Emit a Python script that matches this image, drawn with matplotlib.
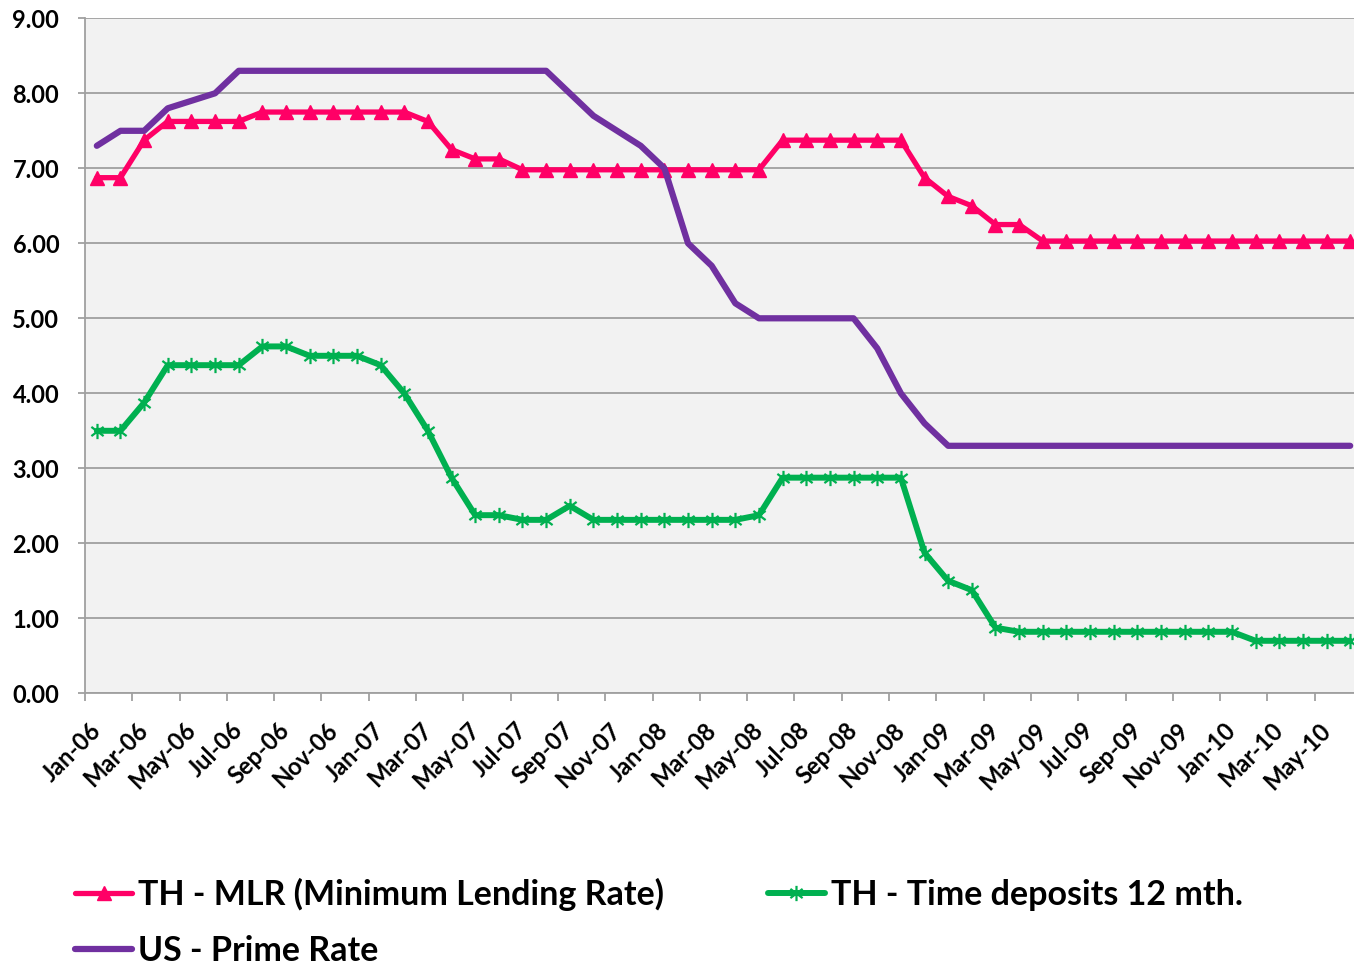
import matplotlib
matplotlib.use('Agg')
import matplotlib.pyplot as plt
from matplotlib.path import Path
import numpy as np

months = ['Jan-06', 'Feb-06', 'Mar-06', 'Apr-06', 'May-06', 'Jun-06', 'Jul-06', 'Aug-06', 'Sep-06', 'Oct-06', 'Nov-06', 'Dec-06',
          'Jan-07', 'Feb-07', 'Mar-07', 'Apr-07', 'May-07', 'Jun-07', 'Jul-07', 'Aug-07', 'Sep-07', 'Oct-07', 'Nov-07', 'Dec-07',
          'Jan-08', 'Feb-08', 'Mar-08', 'Apr-08', 'May-08', 'Jun-08', 'Jul-08', 'Aug-08', 'Sep-08', 'Oct-08', 'Nov-08', 'Dec-08',
          'Jan-09', 'Feb-09', 'Mar-09', 'Apr-09', 'May-09', 'Jun-09', 'Jul-09', 'Aug-09', 'Sep-09', 'Oct-09', 'Nov-09', 'Dec-09',
          'Jan-10', 'Feb-10', 'Mar-10', 'Apr-10', 'May-10', 'Jun-10']

th_mlr = [6.875, 6.875, 7.375, 7.625, 7.625, 7.625, 7.625, 7.75, 7.75, 7.75, 7.75, 7.75,
          7.75, 7.75, 7.625, 7.25, 7.125, 7.125, 6.98, 6.98, 6.98, 6.98, 6.98, 6.98,
          6.98, 6.98, 6.98, 6.98, 6.98, 7.375, 7.375, 7.375, 7.375, 7.375, 7.375, 6.875,
          6.625, 6.5, 6.25, 6.25, 6.03, 6.03, 6.03, 6.03, 6.03, 6.03, 6.03, 6.03,
          6.03, 6.03, 6.03, 6.03, 6.03, 6.03]

th_deposits = [3.5, 3.5, 3.875, 4.375, 4.375, 4.375, 4.375, 4.625, 4.625, 4.5, 4.5, 4.5,
               4.375, 4.0, 3.5, 2.875, 2.375, 2.375, 2.3125, 2.3125, 2.5, 2.3125, 2.3125, 2.3125,
               2.3125, 2.3125, 2.3125, 2.3125, 2.375, 2.875, 2.875, 2.875, 2.875, 2.875, 2.875, 1.875,
               1.5, 1.375, 0.875, 0.82, 0.82, 0.82, 0.82, 0.82, 0.82, 0.82, 0.82, 0.82,
               0.82, 0.70, 0.70, 0.70, 0.70, 0.70]

us_prime = [7.3, 7.5, 7.5, 7.8, 7.9, 8.0, 8.3, 8.3, 8.3, 8.3, 8.3, 8.3,
            8.3, 8.3, 8.3, 8.3, 8.3, 8.3, 8.3, 8.3, 8.0, 7.7, 7.5, 7.3,
            7.0, 6.0, 5.7, 5.2, 5.0, 5.0, 5.0, 5.0, 5.0, 4.6, 4.0, 3.6,
            3.3, 3.3, 3.3, 3.3, 3.3, 3.3, 3.3, 3.3, 3.3, 3.3, 3.3, 3.3,
            3.3, 3.3, 3.3, 3.3, 3.3, 3.3]

labels = ['TH - MLR (Minimum Lending Rate)', 'TH - Time deposits 12 mth.', 'US - Prime Rate']
colors = ['#FF0066', '#00B050', '#7030A0']
y_ticks = [0, 1, 2, 3, 4, 5, 6, 7, 8, 9]

plt.rcParams['font.family'] = ['Lato', 'DejaVu Sans']
plt.rcParams['font.weight'] = 'bold'

W, H = 1354, 967
fig = plt.figure(figsize=(W / 100, H / 100), dpi=100)
fig.patch.set_facecolor('white')
ax = fig.add_axes([85 / W, 1 - 693.3 / H, (1362 - 85) / W, (693.3 - 18.3) / H])
ax.set_facecolor('#F2F2F2')

x = np.arange(len(months))
star = Path([(0, -1), (0, 1), (-0.8, -0.6), (0.8, 0.6), (-0.8, 0.6), (0.8, -0.6)],
            [Path.MOVETO, Path.LINETO] * 3)

l_mlr, = ax.plot(x, th_mlr, color=colors[0], lw=3.8, marker='^', ms=9.5,
                 mec=colors[0], mfc=colors[0], label=labels[0], zorder=3,
                 solid_joinstyle='round', solid_capstyle='round')
l_dep, = ax.plot(x, th_deposits, color=colors[1], lw=4.3, marker=star, ms=11,
                 mec=colors[1], mfc='none', mew=1.6, label=labels[1], zorder=3,
                 solid_joinstyle='round', solid_capstyle='round')
l_us, = ax.plot(x, us_prime, color=colors[2], lw=4.5, label=labels[2], zorder=4,
                solid_joinstyle='round', solid_capstyle='round')

ax.set_xlim(-0.5, len(months) - 0.5)
ax.set_ylim(0, 9)
ax.set_yticks(y_ticks)
ax.set_yticklabels(['%.2f' % v for v in y_ticks], fontsize=17, fontweight='bold')
ax.yaxis.grid(True, color='#A0A0A0', lw=1.3)
ax.set_axisbelow(True)

for s in ['top', 'right']:
    ax.spines[s].set_visible(False)
for s in ['left', 'bottom']:
    ax.spines[s].set_color('#A0A0A0')
    ax.spines[s].set_linewidth(1.3)

ax.set_xticks(np.arange(-0.5, len(months), 2))
ax.set_xticklabels([])
ax.tick_params(axis='x', which='major', length=6, width=1.3, color='#A0A0A0', direction='out')
ax.set_xticks(x[::2], minor=True)
ax.set_xticklabels(months[::2], minor=True, rotation=45, ha='right', va='center',
                   rotation_mode='anchor', fontsize=17, fontweight='bold')
ax.tick_params(axis='x', which='minor', length=0, pad=24)
ax.tick_params(axis='y', length=5, width=1.3, color='#A0A0A0', direction='out', pad=13.5)

fig.legend([l_mlr, l_us, l_dep], [labels[0], labels[2], labels[1]],
           loc='upper left', bbox_to_anchor=(75 / W, 1 - 878 / H), ncol=2, frameon=False,
           prop={'family': ['Lato', 'DejaVu Sans'], 'weight': 'bold', 'size': 24.5},
           handlelength=1.68, handletextpad=0.17, columnspacing=3.05, labelspacing=0.7,
           borderpad=0, borderaxespad=0)

fig.savefig('out.png', dpi=100, facecolor='white')
